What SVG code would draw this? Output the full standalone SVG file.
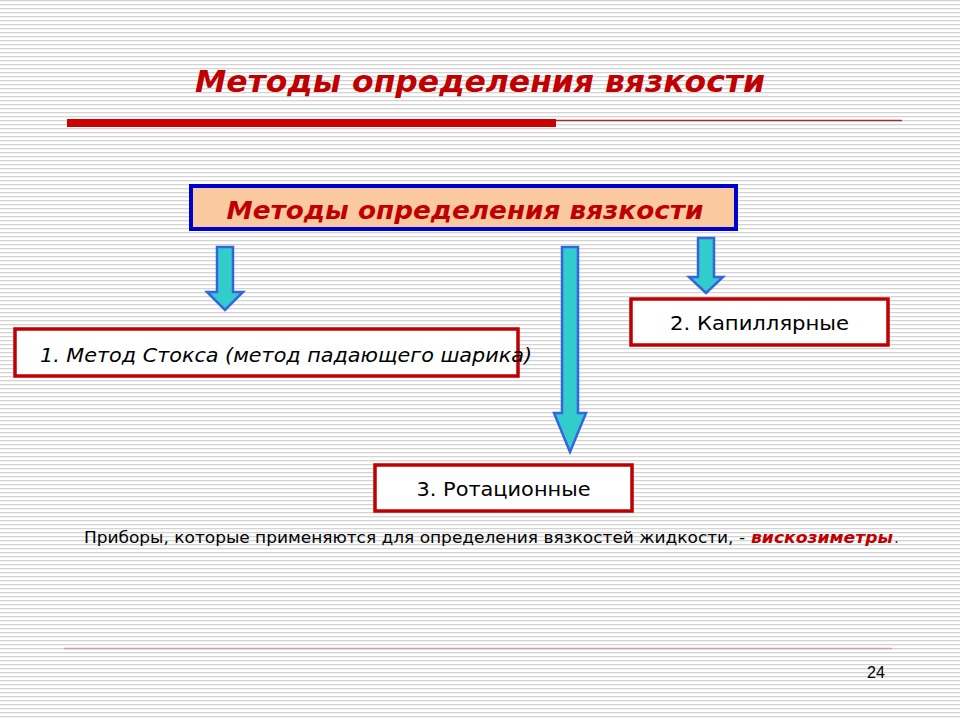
<svg xmlns="http://www.w3.org/2000/svg" width="960" height="720" viewBox="0 0 960 720">
<defs>
<pattern id="bg" x="0" y="0" width="8" height="4" patternUnits="userSpaceOnUse">
<rect x="0" y="0" width="8" height="4" fill="#ffffff"/>
<rect x="0" y="0" width="8" height="1.3" fill="#d4d4d4"/>
</pattern>
<style>
.arrow{fill:#33cccc;stroke:#3366dd;stroke-width:2.5;stroke-linejoin:miter}
.box{fill:#ffffff;stroke:#c00000;stroke-width:3.5}
.lbl{font-family:"DejaVu Sans",Verdana,sans-serif;font-size:20px;fill:#000000}
.ttl{font-family:"DejaVu Sans",Verdana,sans-serif;font-weight:bold;font-style:italic;fill:#c00000}
</style>
</defs>
<rect x="0" y="0" width="960" height="720" fill="url(#bg)"/>
<text class="ttl" x="480" y="92" font-size="31" text-anchor="middle" textLength="570" lengthAdjust="spacingAndGlyphs">Методы определения вязкости</text>
<rect x="67" y="119" width="489" height="8" fill="#cc0000"/>
<line x1="556" y1="120.5" x2="902" y2="120.5" stroke="#a03030" stroke-width="1.5"/>
<g id="root">
<rect x="191" y="186" width="545" height="43" fill="#fac9a0" stroke="#0000cc" stroke-width="4"/>
<text class="ttl" x="465" y="219" font-size="25.5" text-anchor="middle" textLength="477" lengthAdjust="spacingAndGlyphs">Методы определения вязкости</text>
</g>
<g id="connectors">
<polygon class="arrow" points="217,247 233,247 233,292 243,292 225,310 207,292 217,292"/>
<polygon class="arrow" points="562,247 578,247 578,413 586,413 570,452 554,413 562,413"/>
<polygon class="arrow" points="698,238 714,238 714,277 723,277 706,293 689,277 698,277"/>
</g>
<g id="n1">
<rect class="box" x="15" y="329" width="503" height="47"/>
<text class="lbl" x="40" y="362" font-style="italic" textLength="492" lengthAdjust="spacingAndGlyphs">1. Метод Стокса (метод падающего шарика)</text>
</g>
<g id="n2">
<rect class="box" x="631" y="299" width="257" height="46"/>
<text class="lbl" x="759.5" y="330" text-anchor="middle" textLength="179" lengthAdjust="spacingAndGlyphs">2. Капиллярные</text>
</g>
<g id="n3">
<rect class="box" x="375" y="465" width="257" height="46"/>
<text class="lbl" x="503.5" y="496" text-anchor="middle" textLength="174" lengthAdjust="spacingAndGlyphs">3. Ротационные</text>
</g>
<text x="84" y="543" font-family="'DejaVu Sans',Verdana,sans-serif" font-size="16" fill="#000000" textLength="661" lengthAdjust="spacingAndGlyphs">Приборы, которые применяются для определения вязкостей жидкости, - </text>
<text x="751" y="543" font-family="'DejaVu Sans',Verdana,sans-serif" font-size="16" font-weight="bold" font-style="italic" fill="#c00000" textLength="142" lengthAdjust="spacingAndGlyphs">вискозиметры</text>
<text x="894" y="543" font-family="'DejaVu Sans',Verdana,sans-serif" font-size="16" fill="#c00000">.</text>
<line x1="64" y1="648.5" x2="892" y2="648.5" stroke="#c8a4a4" stroke-width="1.5"/>
<text x="876" y="678" font-family="'Liberation Sans',Arial,sans-serif" font-size="16" text-anchor="middle" fill="#000000">24</text>
</svg>
